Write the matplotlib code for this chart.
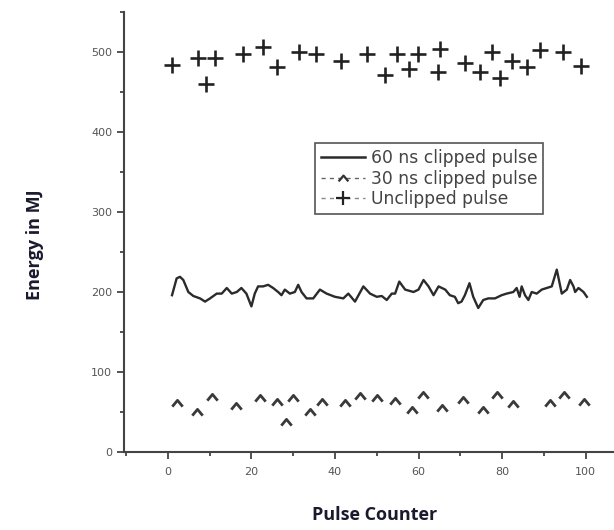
import matplotlib
matplotlib.use("Agg")
import matplotlib.pyplot as plt
from matplotlib.ticker import MultipleLocator
from matplotlib.path import Path
from matplotlib.lines import Line2D

# 60 ns clipped pulse (line)
x60 = [1.0, 2.1, 2.9, 3.7, 4.9, 6.1, 7.7, 8.9, 10.1, 11.7, 12.9, 14.1, 15.3, 16.5,
       17.6, 18.8, 20.0, 20.8, 21.6, 22.8, 24.0, 25.2, 26.4, 27.2, 28.0, 29.2, 30.4,
       31.2, 32.0, 33.2, 34.8, 36.4, 38.0, 40.0, 42.0, 43.2, 44.8, 46.8, 48.4, 50.0,
       51.2, 52.4, 53.6, 54.4, 55.4, 56.8, 58.8, 60.0, 61.2, 62.4, 63.6, 64.8, 66.4,
       67.5, 68.7, 69.5, 70.3, 71.1, 72.2, 73.1, 74.3, 75.5, 76.7, 78.3, 79.9, 81.1,
       82.7, 83.5, 84.2, 84.7, 85.5, 86.3, 87.1, 88.3, 89.5, 90.7, 91.9, 93.1, 94.3,
       95.5, 96.3, 97.1, 97.5, 98.3, 99.5, 100.3]
y60 = [196, 217, 219, 215, 200, 195, 192, 188, 192, 198, 198, 205, 198, 200,
       205, 198, 182, 198, 207, 207, 209, 205, 200, 196, 203, 198, 200,
       209, 200, 192, 192, 203, 198, 194, 192, 198, 188, 207, 198, 194,
       195, 190, 198, 198, 213, 203, 200, 203, 215, 207, 196, 207, 203,
       196, 194, 186, 188, 196, 211, 194, 180, 190, 192, 192, 196, 198,
       200, 205, 194, 207, 196, 190, 200, 198, 203, 205, 207, 228, 198,
       203, 215, 207, 200, 205, 200, 194]

# 30 ns clipped pulse (caret markers)
x30 = [2.1, 6.9, 10.6, 16.4, 22.0, 26.2, 28.4, 30.0, 34.0, 36.8, 42.4, 46.0, 50.0,
       54.4, 58.4, 61.0, 65.6, 70.6, 75.4, 78.7, 82.7, 91.5, 94.9, 99.7]
y30 = [61, 50, 69, 57, 67, 62, 38, 67, 50, 63, 61, 70, 67,
       64, 53, 71, 55, 65, 52, 71, 60, 61, 71, 63]

# Unclipped pulse (plus markers)
xun = [0.9, 7.1, 9.1, 11.4, 18.0, 22.8, 26.2, 31.5, 35.4, 41.4, 47.6, 52.0, 54.8,
       57.8, 59.8, 65.1, 64.7, 71.1, 74.7, 77.5, 79.5, 82.3, 85.9, 89.1, 94.5, 98.8]
yun = [484, 493, 460, 493, 498, 506, 481, 500, 498, 489, 498, 471, 498,
       479, 498, 504, 475, 486, 475, 500, 468, 489, 481, 502, 500, 482]

xticks = [0, 20, 40, 60, 80, 100]
yticks = [0, 100, 200, 300, 400, 500]

caret = Path([(-1.0, -0.6), (0.0, 0.6), (1.0, -0.6)],
             [Path.MOVETO, Path.LINETO, Path.LINETO])

fig = plt.figure(figsize=(6.14, 5.30), dpi=100)
ax = fig.add_axes([124/614, 78/530, 490/614, 440/530])

ax.plot(x60, y60, color="#2b2b2b", lw=1.7)
ax.plot(x30, y30, ls="none", marker=caret, ms=7.5, mew=2.0, fillstyle="none",
        color="#3a3a3a")
ax.plot(xun, yun, ls="none", marker="+", ms=11, mew=1.9, color="#222222")

ax.set_xlim(-10.5, 106.8)
ax.set_ylim(0, 550)
ax.set_xticks(xticks)
ax.set_yticks(yticks)
ax.xaxis.set_minor_locator(MultipleLocator(10))
ax.yaxis.set_minor_locator(MultipleLocator(50))
for s in ["top", "right"]:
    ax.spines[s].set_visible(False)
for s in ["left", "bottom"]:
    ax.spines[s].set_color("#444444")
    ax.spines[s].set_linewidth(1.5)
ax.tick_params(which="major", direction="out", length=5, width=1.3, color="#444444",
               labelsize=8, labelcolor="#555555")
ax.tick_params(which="minor", direction="out", length=3, width=1.3, color="#444444")
ax.tick_params(axis="x", which="major", pad=6)

# legend with dashed handles
h1 = Line2D([], [], color="#2b2b2b", lw=1.8)
h2 = Line2D([], [], color="#666666", lw=1, ls=(0, (3, 3)), marker=caret, ms=7,
            mew=1.6, fillstyle="none", mec="#333333")
h3 = Line2D([], [], color="#888888", lw=1, ls=(0, (3, 3)), marker="+", ms=10, mew=1.6,
            mec="#222222")
leg = ax.legend([h1, h2, h3], ["60 ns clipped pulse", "30 ns clipped pulse", "Unclipped pulse"],
                loc="upper left", bbox_to_anchor=(0.39, 0.702), borderaxespad=0,
                fancybox=False, framealpha=1, edgecolor="#555555", fontsize=12.3,
                handlelength=2.6, handletextpad=0.3, labelspacing=0.15, borderpad=0.35)
for t in leg.get_texts():
    t.set_color("#444444")
leg.get_frame().set_linewidth(1.2)

fig.text(35/614, 1 - 245/530, "Energy in MJ", rotation=90, ha="center", va="center",
         fontsize=13, fontweight="bold", color="#1a1a2e", family="Open Sans")
fig.text(375/614, 1 - 515/530, "Pulse Counter", ha="center", va="center",
         fontsize=13, fontweight="bold", color="#1a1a2e", family="Open Sans")

fig.savefig("out.png", dpi=100)
